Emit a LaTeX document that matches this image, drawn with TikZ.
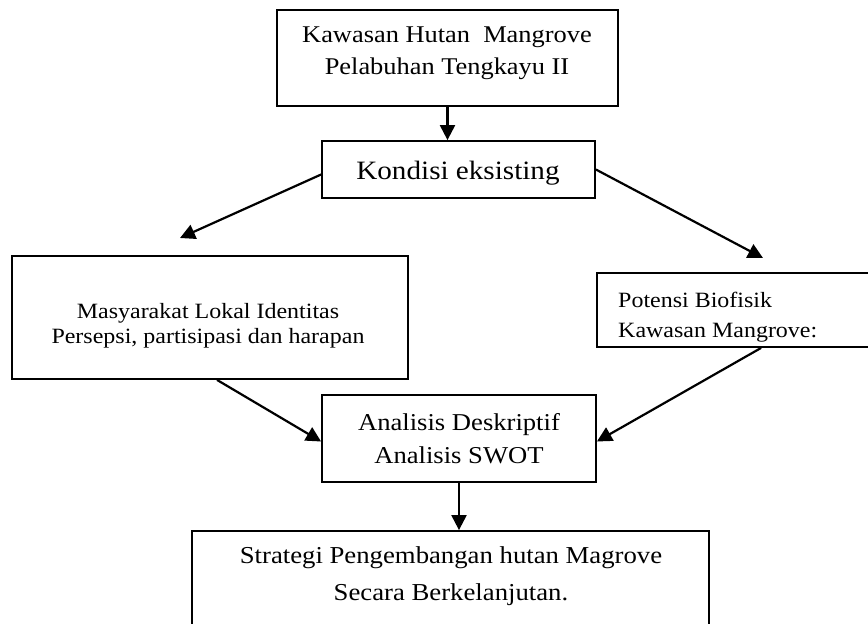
\documentclass[tikz,border=0pt]{standalone}
\usepackage{fontspec}
\setmainfont{Liberation Serif}[FakeStretch=1.1]
\usetikzlibrary{arrows.meta}

\begin{document}
\begin{tikzpicture}[x=1pt, y=-1pt,
  box/.style={draw, line width=1.8pt, inner sep=0pt},
  txt/.style={inner sep=0pt, align=center},
  arr/.style={line width=2.2pt, -{Triangle[length=15pt,width=15pt]}}]

\clip (0,0) rectangle (868,624);

\node[box, minimum width=341, minimum height=96] (b0) at (447.5,58) {};
\node[box, minimum width=273, minimum height=57] (b1) at (458.5,169.5) {};
\node[box, minimum width=396, minimum height=123] (b2) at (210,317.5) {};
\node[box, minimum width=303, minimum height=74] (b3) at (748.5,310) {};
\node[box, minimum width=274, minimum height=87] (b4) at (459,438.5) {};
\node[box, minimum width=517, minimum height=149] (b5) at (450.5,605.5) {};

\node[txt, font={\fontsize{24}{32}\selectfont}] (t0) at (447,53) {Kawasan Hutan\ \ Mangrove\\Pelabuhan Tengkayu II};
\node[txt, font={\fontsize{26.5}{32}\selectfont}] (t1) at (458,173) {Kondisi eksisting};
\node[txt, font={\fontsize{21.8}{25}\selectfont}] (t2) at (208,326) {Masyarakat Lokal Identitas\\Persepsi, partisipasi dan harapan};
\node[txt, align=left, anchor=west, font={\fontsize{21.8}{30}\selectfont}] (t3) at (618,317) {Potensi Biofisik\\Kawasan Mangrove:};
\node[txt, font={\fontsize{24.2}{32.5}\selectfont}] (t4) at (459,438.5) {Analisis Deskriptif\\Analisis SWOT};
\node[txt, font={\fontsize{24.3}{37}\selectfont}] (t5) at (451,576.5) {Strategi Pengembangan hutan Magrove\\Secara Berkelanjutan.};

\coordinate (p1) at (180,238);
\coordinate (p2) at (763,258);

\draw[arr] (b0.south) -- (b0.south |- b1.north);
\draw[arr] ([yshift=-5pt]b1.west) -- (p1);
\draw[arr] (b1.east) -- (p2);
\draw[arr] ([xshift=7pt]b2.south) -- ([yshift=-3pt]b4.west);
\draw[arr] ([xshift=165pt]b3.south west) -- ([yshift=-3pt]b4.east);
\draw[arr] (b4.south) -- (b4.south |- b5.north);

\end{tikzpicture}
\end{document}
